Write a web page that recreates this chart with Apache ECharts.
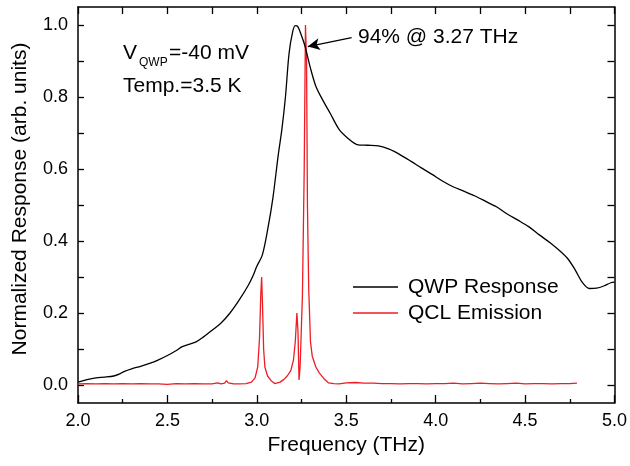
<!DOCTYPE html>
<html>
<head>
<meta charset="UTF-8">
<title>QWP response</title>
<script src="https://cdn.jsdelivr.net/npm/echarts@6/dist/echarts.min.js"></script>
<style>
	html, body { margin: 0; padding: 0; background: #fff; }
	#chart { width: 630px; height: 466px; }
</style>
</head>
<body>
<div id="chart"></div>
<script>
// QWP response (black curve)
var qwpFreq = [2.00, 2.05, 2.10, 2.15, 2.20, 2.23, 2.26, 2.30, 2.35, 2.40, 2.45, 2.50, 2.55, 2.58, 2.62, 2.66,
	2.70, 2.75, 2.80, 2.85, 2.90, 2.95, 2.98, 3.00, 3.03, 3.06, 3.09, 3.12, 3.14, 3.16, 3.18, 3.20, 3.215,
	3.23, 3.25, 3.27, 3.30, 3.33, 3.37, 3.41, 3.46, 3.51, 3.56, 3.62, 3.68, 3.74, 3.80, 3.86, 3.92, 3.98,
	4.04, 4.10, 4.16, 4.22, 4.28, 4.34, 4.40, 4.46, 4.52, 4.58, 4.64, 4.70, 4.74, 4.78, 4.82, 4.86, 4.90,
	4.94, 4.98, 5.00];
var qwpResp = [0.008, 0.015, 0.020, 0.022, 0.025, 0.030, 0.038, 0.045, 0.052, 0.060, 0.070, 0.082, 0.096, 0.106, 0.113, 0.120,
	0.133, 0.152, 0.172, 0.200, 0.235, 0.275, 0.305, 0.330, 0.360, 0.430, 0.520, 0.640, 0.710, 0.800, 0.920, 0.980, 0.998,
	0.995, 0.970, 0.940, 0.880, 0.830, 0.790, 0.755, 0.710, 0.685, 0.668, 0.666, 0.664, 0.655, 0.640, 0.622, 0.603, 0.585,
	0.566, 0.550, 0.538, 0.525, 0.510, 0.495, 0.475, 0.458, 0.440, 0.417, 0.395, 0.370, 0.350, 0.320, 0.285, 0.268, 0.269,
	0.275, 0.284, 0.286];

// QCL emission (red curve)
var qclFreq = [2.00, 2.05, 2.10, 2.15, 2.20, 2.25, 2.30, 2.35, 2.40, 2.45, 2.50, 2.55, 2.60, 2.65, 2.70, 2.75,
	2.78, 2.80, 2.82, 2.83, 2.84, 2.87, 2.90, 2.94, 2.97, 2.99, 3.005, 3.015, 3.022, 3.027, 3.032, 3.038, 3.045,
	3.06, 3.08, 3.10, 3.11, 3.13, 3.15, 3.17, 3.19, 3.205, 3.215, 3.224, 3.230, 3.236, 3.242, 3.255, 3.265,
	3.272, 3.278, 3.283, 3.29, 3.30, 3.31, 3.33, 3.35, 3.38, 3.40, 3.43, 3.46, 3.50, 3.55, 3.60, 3.65, 3.70,
	3.75, 3.80, 3.85, 3.90, 3.95, 4.00, 4.05, 4.10, 4.15, 4.20, 4.25, 4.30, 4.35, 4.40, 4.45, 4.50, 4.55,
	4.60, 4.65, 4.70, 4.75, 4.79];
var qclEm = [0.003, 0.004, 0.003, 0.004, 0.003, 0.004, 0.003, 0.004, 0.003, 0.003, 0.002, 0.004, 0.003, 0.004, 0.003, 0.003,
	0.006, 0.003, 0.005, 0.012, 0.006, 0.003, 0.003, 0.004, 0.008, 0.020, 0.050, 0.130, 0.250, 0.300, 0.220, 0.100, 0.050,
	0.025, 0.012, 0.004, 0.003, 0.008, 0.015, 0.025, 0.040, 0.070, 0.120, 0.200, 0.150, 0.014, 0.050, 0.250, 0.600,
	1.000, 0.900, 0.500, 0.270, 0.120, 0.080, 0.050, 0.033, 0.015, 0.006, 0.004, 0.003, 0.006, 0.007, 0.005, 0.005, 0.004,
	0.004, 0.003, 0.004, 0.004, 0.003, 0.004, 0.004, 0.005, 0.003, 0.004, 0.005, 0.004, 0.003, 0.004, 0.005, 0.003, 0.004,
	0.004, 0.003, 0.004, 0.004, 0.005];

// axis ticks
var yLabelVals = [0, 0.2, 0.4, 0.6, 0.8, 1.0];
var yTickVals = [0, 0.1, 0.2, 0.3, 0.4, 0.5, 0.6, 0.7, 0.8, 0.9, 1.0];

function pairs(xs, ys) {
	var out = [];
	for (var i = 0; i < xs.length; i++) out.push([xs[i], ys[i]]);
	return out;
}

var font = 'Liberation Sans, Arial, sans-serif';
var chart = echarts.init(document.getElementById('chart'));

var option = {
	animation: false,
	backgroundColor: '#fff',
	textStyle: { fontFamily: font, color: '#000' },
	grid: { left: 78, right: 14, top: 7, bottom: 63 },
	legend: {
		orient: 'vertical',
		left: 348,
		top: 271,
		icon: 'rect',
		itemWidth: 45,
		itemHeight: 1.5,
		itemGap: 4,
		textStyle: { fontFamily: font, fontSize: 21, color: '#000', lineHeight: 22, padding: [0, 0, 0, 5] },
		data: ['QWP Response', 'QCL Emission']
	},
	xAxis: [{
		type: 'value', min: 2, max: 5, interval: 0.5, position: 'bottom',
		name: 'Frequency (THz)', nameLocation: 'middle', nameGap: 30,
		nameTextStyle: { fontFamily: font, fontSize: 21, color: '#000' },
		axisLine: { onZero: false, lineStyle: { color: '#000', width: 1.5 } },
		axisTick: { inside: true, length: 8, lineStyle: { color: '#000', width: 1.3 } },
		minorTick: { show: true, splitNumber: 2, length: 4, lineStyle: { color: '#000', width: 1.3 } },
		axisLabel: { fontFamily: font, fontSize: 18, color: '#000', margin: 9, formatter: function (v) { return v.toFixed(1); } },
		splitLine: { show: false }
	}, {
		type: 'value', min: 2, max: 5, interval: 0.25, position: 'top',
		axisLine: { onZero: false, lineStyle: { color: '#000', width: 1.5 } },
		axisTick: { inside: true, length: 7, lineStyle: { color: '#000', width: 1.3 } },
		axisLabel: { show: false },
		splitLine: { show: false }
	}],
	yAxis: [{
		type: 'value', min: -0.05, max: 1.05, position: 'left',
		name: 'Normalized Response (arb. units)', nameLocation: 'middle', nameGap: 47,
		nameTextStyle: { fontFamily: font, fontSize: 21, color: '#000', padding: [0, 0, 0, 12] },
		axisLine: { onZero: false, lineStyle: { color: '#000', width: 1.5 } },
		axisTick: { inside: true, length: 6, customValues: yTickVals, lineStyle: { color: '#000', width: 1.3 } },
		axisLabel: { fontFamily: font, fontSize: 18, color: '#000', margin: 10, customValues: yLabelVals,
			formatter: function (v) { return v.toFixed(1); } },
		splitLine: { show: false }
	}, {
		type: 'value', min: -0.05, max: 1.05, position: 'right',
		axisLine: { show: true, onZero: false, lineStyle: { color: '#000', width: 1.5 } },
		axisTick: { show: true, inside: true, length: 7, customValues: yTickVals, lineStyle: { color: '#000', width: 1.3 } },
		axisLabel: { show: false },
		splitLine: { show: false }
	}],
	graphic: [
		{ type: 'text', left: 123, top: 43, style: { text: 'V', font: '21px ' + font, fill: '#000' } },
		{ type: 'text', left: 139, top: 57, style: { text: 'QWP', font: '12px ' + font, fill: '#000' } },
		{ type: 'text', left: 169, top: 43, style: { text: '=-40 mV', font: '21px ' + font, fill: '#000' } },
		{ type: 'text', left: 123, top: 76, style: { text: 'Temp.=3.5 K', font: '21px ' + font, fill: '#000' } },
		{ type: 'text', left: 358, top: 27, style: { text: '94% @ 3.27 THz', font: '21px ' + font, fill: '#000' } }
	],
	series: [{
		name: 'QWP Response',
		type: 'line',
		data: pairs(qwpFreq, qwpResp),
		symbol: 'none',
		smooth: 0.3,
		lineStyle: { color: '#000', width: 1.3 },
		itemStyle: { color: '#000' },
		z: 3,
		markLine: {
			silent: true,
			animation: false,
			label: { show: false },
			lineStyle: { color: '#000', width: 1.3, type: 'solid' },
			symbolSize: [9, 12],
			data: [[
				{ coord: [3.53, 0.965], symbol: 'none' },
				{ coord: [3.285, 0.94], symbol: 'arrow' }
			]]
		}
	}, {
		name: 'QCL Emission',
		type: 'line',
		data: pairs(qclFreq, qclEm),
		symbol: 'none',
		lineStyle: { color: '#ee1c24', width: 1.3 },
		itemStyle: { color: '#ee1c24' },
		z: 2
	}]
};
chart.setOption(option);
</script>
</body>
</html>
